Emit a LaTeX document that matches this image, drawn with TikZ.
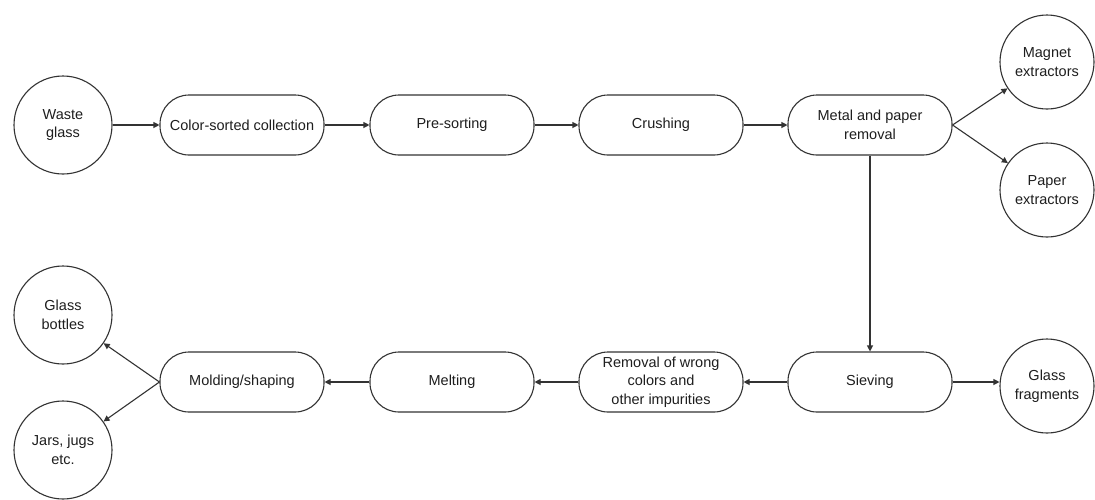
\documentclass[tikz,border=0pt]{standalone}
\usepackage{fontspec}
\setmainfont{Liberation Sans}
\usetikzlibrary{arrows.meta}
\definecolor{ln}{HTML}{333333}
\definecolor{tx}{HTML}{1E1E1E}
\begin{document}
\begin{tikzpicture}[x=1pt,y=-1pt,
  every node/.style={font=\fontsize{14.5}{18.5}\selectfont, text=tx},
  circ/.style={circle, draw=ln, line width=1.1pt, minimum size=98pt, inner sep=0pt, align=center},
  pill/.style={rectangle, rounded corners=29pt, draw=ln, line width=1.1pt, minimum width=164pt, minimum height=60pt, inner sep=2pt, align=center},
  conn/.style={draw=ln, line width=1.1pt, -{Triangle[length=6pt,width=6pt]}}]
\useasboundingbox (0,0) rectangle (1095,499);
\fill[white] (0,0) rectangle (1095,499);
% top row
\node[circ] (waste) at (63,125) {Waste\\glass};
\node[pill] (color) at (242,125) {Color-sorted collection};
\node[pill] (pre) at (452,125) {Pre-sorting};
\node[pill] (crush) at (661,125) {Crushing};
\node[pill] (metal) at (870,125) {Metal and paper\\removal};
\node[circ, minimum size=94pt] (magnet) at (1047,62) {Magnet\\extractors};
\node[circ, minimum size=94pt] (paper) at (1047,190) {Paper\\extractors};
% bottom row
\node[pill] (sieve) at (870,382) {Sieving};
\node[circ, minimum size=94pt] (frag) at (1047,386) {Glass\\fragments};
\node[pill] (remove) at (661,382) {Removal of wrong\\colors and\\other impurities};
\node[pill] (melt) at (452,382) {Melting};
\node[pill] (mold) at (242,382) {Molding/shaping};
\node[circ] (bottles) at (63,315) {Glass\\bottles};
\node[circ] (jars) at (63,450) {Jars, jugs\\etc.};
% connectors
\draw[conn] (waste) -- (color);
\draw[conn] (color) -- (pre);
\draw[conn] (pre) -- (crush);
\draw[conn] (crush) -- (metal);
\draw[conn] (metal.east) -- (magnet);
\draw[conn] (metal.east) -- (paper);
\draw[conn] (metal) -- (sieve);
\draw[conn] (sieve) -- (frag.west |- sieve);
\draw[conn] (sieve) -- (remove);
\draw[conn] (remove) -- (melt);
\draw[conn] (melt) -- (mold);
\draw[conn] (mold.west) -- (bottles);
\draw[conn] (mold.west) -- (jars);
\end{tikzpicture}
\end{document}
